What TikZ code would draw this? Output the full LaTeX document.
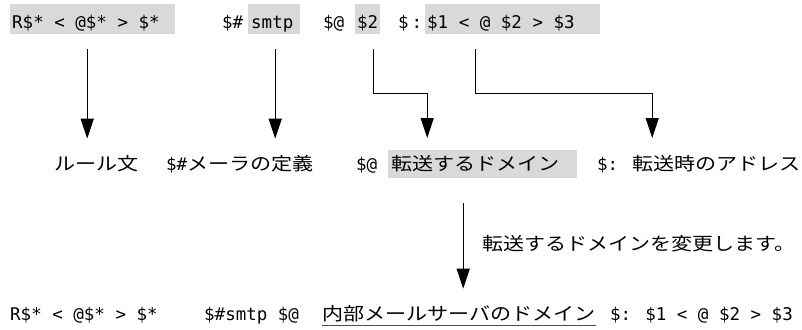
\documentclass[tikz,border=0pt]{standalone}
\usepackage{fontspec}
\setmainfont{DejaVu Sans Mono}
\newfontfamily\jpfam[FakeStretch=1.17]{Noto Sans CJK JP}
\usetikzlibrary{arrows.meta,calc}
\newcommand\lt{\fontsize{17.5bp}{20bp}\selectfont}
\newcommand\jt{\jpfam\fontsize{18bp}{20bp}\selectfont}
\tikzset{
  txt/.style={inner sep=0pt, anchor=base west, font=\lt},
  hlbox/.style={fill=black!15, draw=none, inner sep=0pt, anchor=north west},
  arr/.style={line width=1.4bp, -{Triangle[length=20bp,width=13bp]}},
}
\begin{document}
\begin{tikzpicture}[x=1bp,y=-1bp]
\useasboundingbox (0,0) rectangle (802,329);
% top row
\node[hlbox, minimum width=165bp, minimum height=30bp] (b1) at (10,4) {};
\node[hlbox, minimum width=52bp, minimum height=30bp] (b2) at (248,4) {};
\node[hlbox, minimum width=25bp, minimum height=30bp] (b3) at (355,4) {};
\node[hlbox, minimum width=175bp, minimum height=30bp] (b4) at (425,4) {};
\node[txt] (t1) at (12,28) {R\$* < @\$* > \$*};
\node[txt] (t2) at (222,28) {\$\#};
\node[txt] (t3) at (251,28) {smtp};
\node[txt] (t4) at (323,28) {\$@};
\node[txt] (t5) at (357,28) {\$2};
\node[txt] (t6) at (398,28) {\$\kern3bp:};
\node[txt] (t7) at (427,28) {\$1 < @ \$2 > \$3};
% middle row
\node[hlbox, minimum width=189bp, minimum height=28bp] (b5) at (388,150) {};
\node[txt] (m1) at (54,170) {\jt ルール文};
\node[txt] (m2) at (166,170) {\$\#{\jt メーラの定義}};
\node[txt] (m3) at (356,170) {\$@};
\node[txt] (m5) at (391,170) {\jt 転送するドメイン};
\node[txt] (m4) at (597,170) {\$: {\jt 転送時のアドレス}};
% label
\node[txt] (lab) at (482,250) {\jt 転送するドメインを変更します。};
% bottom row
\node[txt] (r1) at (10,320) {R\$* < @\$* > \$*};
\node[txt] (r2) at (204,320) {\$\#smtp \$@};
\node[txt] (r3) at (322,320) {\jt 内部メールサーバのドメイン};
\node[txt] (r4) at (610,320) {\$: \$1 < @ \$2 > \$3};
\draw[line width=1bp, black!70] ([yshift=-5bp]r3.base west) -- ([yshift=-5bp]r3.base east);
% connectors
\coordinate (s1) at ($(b1.south)+(-5.5,15)$);
\coordinate (e1) at ($(m1.north)+(0,-16)$);
\draw[arr] (s1) -- (s1 |- e1);
\coordinate (s2) at ($(b2.south)+(1,15)$);
\draw[arr] (s2) -- (s2 |- e1);
\coordinate (s3) at ($(b3.south)+(5.5,15)$);
\coordinate (e3) at ($(b5.north)+(-55.5,-12)$);
\draw[arr] (s3) -- ++(0,44) -| (e3);
\coordinate (s4) at ($(b4.south)+(-37.5,15)$);
\coordinate (e4) at ($(b4.south)+(139.5,15)$);
\draw[arr] (s4) -- ++(0,44) -| (e4 |- e3);
\coordinate (s5) at ($(b5.south)+(-19.5,25)$);
\coordinate (e5) at ($(r3.north)+(0,-16)$);
\draw[arr] (s5) -- (s5 |- e5);
\end{tikzpicture}
\end{document}
